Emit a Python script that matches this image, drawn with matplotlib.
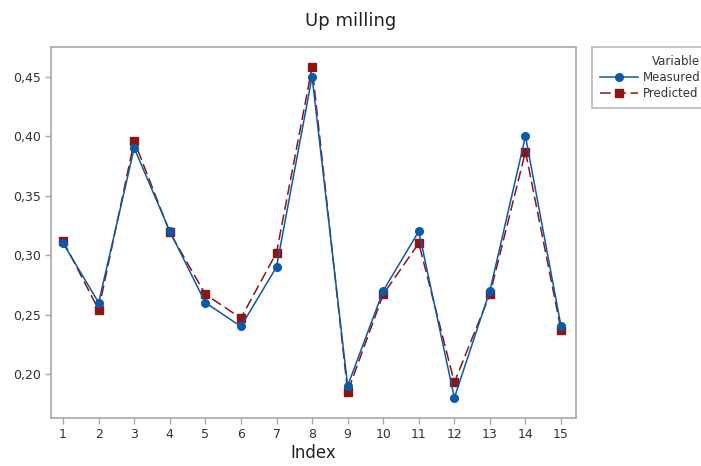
import matplotlib
matplotlib.use("Agg")
import matplotlib.pyplot as plt
from matplotlib.ticker import FuncFormatter

plt.rcParams['font.family'] = ['DejaVu Sans']

index = list(range(1, 16))
measured = [0.31, 0.26, 0.39, 0.32, 0.26, 0.24, 0.29, 0.45, 0.19, 0.27, 0.32, 0.18, 0.27, 0.40, 0.24]
predicted = [0.312, 0.254, 0.396, 0.319, 0.267, 0.247, 0.302, 0.458, 0.185, 0.267, 0.310, 0.193, 0.267, 0.387, 0.237]
yticks = [0.20, 0.25, 0.30, 0.35, 0.40, 0.45]

blue = '#0a5aa8'
red = '#8e1515'
grey = '#a8a8a8'

fig = plt.figure(figsize=(7.01, 4.66), dpi=100)
ax = fig.add_axes([51 / 701, 1 - 418 / 466, (576 - 51) / 701, (418 - 47) / 466])

ax.plot(index, measured, color=blue, marker='o', markersize=5.5, linewidth=1.1,
        label='Measured', zorder=3)
ax.plot(index, predicted, color=red, marker='s', markersize=5.5, linewidth=1.1,
        linestyle=(0, (7, 3)), label='Predicted', zorder=2)

ax.set_xlim(0.66, 15.42)
ax.set_ylim(0.163, 0.475)
ax.set_xticks(index)
ax.set_yticks(yticks)
ax.yaxis.set_major_formatter(FuncFormatter(lambda v, p: f"{v:.2f}".replace('.', ',')))

for s in ax.spines.values():
    s.set_color(grey)
    s.set_linewidth(1.2)
ax.tick_params(colors=grey, labelcolor='#333333', labelsize=9, length=4, width=1)

ax.set_xlabel('Index', fontsize=12, color='#222222', labelpad=2)
fig.suptitle('Up milling', fontsize=13, color='#222222', y=0.975)

leg = fig.legend(loc='upper left', bbox_to_anchor=(592 / 701, 1 - 47 / 466),
                 title='Variable', fontsize=8.5, title_fontsize=8.5, frameon=True,
                 fancybox=False, handlelength=3.2, borderpad=0.7, labelspacing=0.25,
                 handletextpad=0.4, borderaxespad=0)
leg.get_frame().set_edgecolor(grey)
leg.get_frame().set_linewidth(1.2)
leg._legend_box.align = 'right'
for t in leg.get_texts():
    t.set_color('#333333')
leg.get_title().set_color('#333333')

fig.savefig('out.png', dpi=100)
